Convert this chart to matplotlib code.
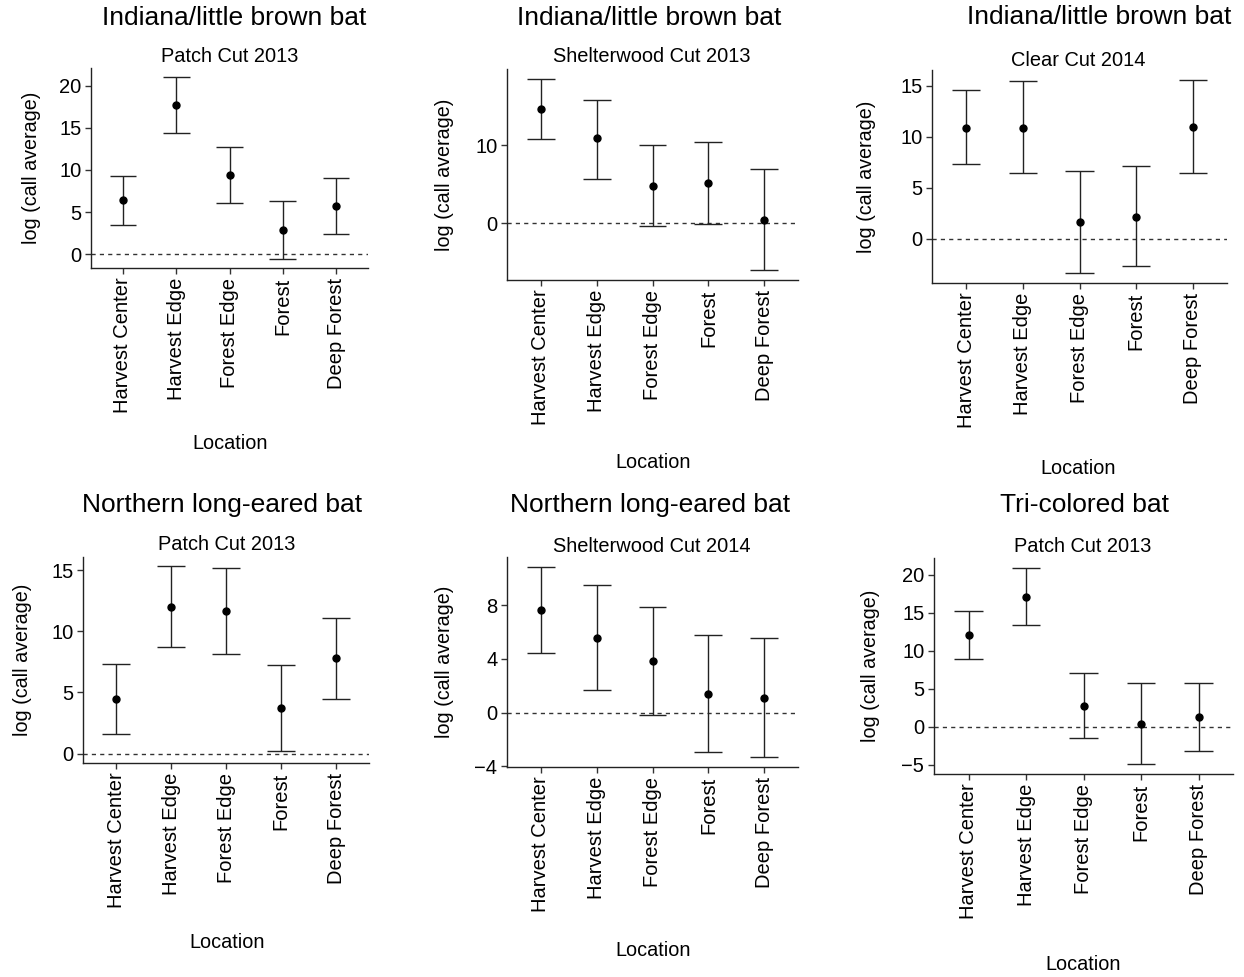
import matplotlib.pyplot as plt

plt.rcParams['font.family'] = ['Liberation Sans', 'DejaVu Sans']

locations = ['Harvest Center', 'Harvest Edge', 'Forest Edge', 'Forest', 'Deep Forest']

# Indiana/little brown bat, Patch Cut 2013
lb_patch13_mean = [6.4, 17.7, 9.4, 2.9, 5.7]
lb_patch13_low = [3.5, 14.4, 6.1, -0.55, 2.4]
lb_patch13_high = [9.3, 21.0, 12.7, 6.3, 9.0]

# Indiana/little brown bat, Shelterwood Cut 2013
lb_shelter13_mean = [14.7, 10.9, 4.8, 5.1, 0.4]
lb_shelter13_low = [10.8, 5.7, -0.4, -0.1, -6.1]
lb_shelter13_high = [18.6, 15.9, 10.0, 10.4, 6.9]

# Indiana/little brown bat, Clear Cut 2014
lb_clear14_mean = [10.9, 10.9, 1.6, 2.15, 11.0]
lb_clear14_low = [7.3, 6.4, -3.4, -2.7, 6.45]
lb_clear14_high = [14.6, 15.5, 6.6, 7.1, 15.6]

# Northern long-eared bat, Patch Cut 2013
nle_patch13_mean = [4.45, 12.0, 11.65, 3.7, 7.8]
nle_patch13_low = [1.57, 8.73, 8.16, 0.22, 4.48]
nle_patch13_high = [7.35, 15.3, 15.16, 7.21, 11.12]

# Northern long-eared bat, Shelterwood Cut 2014
nle_shelter14_mean = [7.68, 5.59, 3.85, 1.42, 1.09]
nle_shelter14_low = [4.45, 1.69, -0.17, -2.93, -3.35]
nle_shelter14_high = [10.9, 9.49, 7.9, 5.76, 5.59]

# Tri-colored bat, Patch Cut 2013
tri_patch13_mean = [12.13, 17.13, 2.78, 0.43, 1.26]
tri_patch13_low = [8.96, 13.35, -1.43, -4.91, -3.13]
tri_patch13_high = [15.26, 20.91, 7.04, 5.83, 5.7]

W, H = 1244, 977
fig = plt.figure(figsize=(W / 100, H / 100), dpi=100)

# (title, subtitle, mean, low, high, yticks,
#  axes box [left, top, right, bottom] px, title xy, subtitle xy, ylabel x, xlabel xy)
panels = [
    ('Indiana/little brown bat', 'Patch Cut 2013',
     lb_patch13_mean, lb_patch13_low, lb_patch13_high, [0, 5, 10, 15, 20],
     (91, 68, 368, 268), (234, 18), (230, 57), 32, (230, 444)),
    ('Indiana/little brown bat', 'Shelterwood Cut 2013',
     lb_shelter13_mean, lb_shelter13_low, lb_shelter13_high, [0, 10],
     (507, 69, 798, 280), (649, 18), (652, 57), 444, (653, 463)),
    ('Indiana/little brown bat', 'Clear Cut 2014',
     lb_clear14_mean, lb_clear14_low, lb_clear14_high, [0, 5, 10, 15],
     (932, 70, 1227, 283), (1099, 17), (1078, 60), 867, (1078, 469)),
    ('Northern long-eared bat', 'Patch Cut 2013',
     nle_patch13_mean, nle_patch13_low, nle_patch13_high, [0, 5, 10, 15],
     (83, 557, 369, 763), (222, 505), (227, 545), 23, (227, 943)),
    ('Northern long-eared bat', 'Shelterwood Cut 2014',
     nle_shelter14_mean, nle_shelter14_low, nle_shelter14_high, [-4, 0, 4, 8],
     (507, 557, 798, 767), (650, 505), (652, 546), 444, (653, 950)),
    ('Tri-colored bat', 'Patch Cut 2013',
     tri_patch13_mean, tri_patch13_low, tri_patch13_high, [-5, 0, 5, 10, 15, 20],
     (934, 558, 1233, 774), (1084, 505), (1083, 547), 870, (1083, 964)),
]

for (title, sub, mean, low, high, yticks, box, tpos, spos, ylx, xlpos) in panels:
    l, t, r, b = box
    ax = fig.add_axes([l / W, 1 - b / H, (r - l) / W, (b - t) / H])
    x = list(range(1, len(locations) + 1))
    yerr = [[m - lo for m, lo in zip(mean, low)], [hi - m for m, hi in zip(mean, high)]]
    ax.axhline(0, color='#333333', linestyle=(0, (3, 3)), linewidth=1.0, zorder=1)
    ax.errorbar(x, mean, yerr=yerr, fmt='o', color='black', ecolor='#222222',
                elinewidth=1.0, capsize=0, markersize=5, zorder=3)
    # caps half a category wide, as geom_errorbar(width = 0.5)
    ax.hlines(low, [xi - 0.25 for xi in x], [xi + 0.25 for xi in x], color='#222222', linewidth=1.0)
    ax.hlines(high, [xi - 0.25 for xi in x], [xi + 0.25 for xi in x], color='#222222', linewidth=1.0)

    lo_all = min(min(low), 0)
    hi_all = max(max(high), 0)
    pad = (hi_all - lo_all) * 0.05
    ax.set_ylim(lo_all - pad, hi_all + pad)
    ax.set_xlim(0.4, len(locations) + 0.6)
    ax.set_xticks(x)
    ax.set_xticklabels(locations, rotation=90, fontsize=14.5)
    ax.set_yticks(yticks)
    ax.set_yticklabels([str(v).replace('-', '\u2212') for v in yticks], fontsize=14.5)
    ax.tick_params(direction='out', length=4, width=1, color='#333333', pad=3)
    for s in ['top', 'right']:
        ax.spines[s].set_visible(False)
    for s in ['left', 'bottom']:
        ax.spines[s].set_linewidth(1.0)
        ax.spines[s].set_color('#222222')

    fig.text(tpos[0] / W, 1 - tpos[1] / H, title, ha='center', va='center', fontsize=19)
    fig.text(spos[0] / W, 1 - spos[1] / H, sub, ha='center', va='center', fontsize=14.4)
    fig.text(ylx / W, 1 - ((t + b) / 2) / H, 'log (call average)', rotation=90,
             ha='center', va='center', fontsize=14.2)
    fig.text(xlpos[0] / W, 1 - xlpos[1] / H, 'Location', ha='center', va='center', fontsize=14.3)

fig.savefig('out.png', dpi=100)
